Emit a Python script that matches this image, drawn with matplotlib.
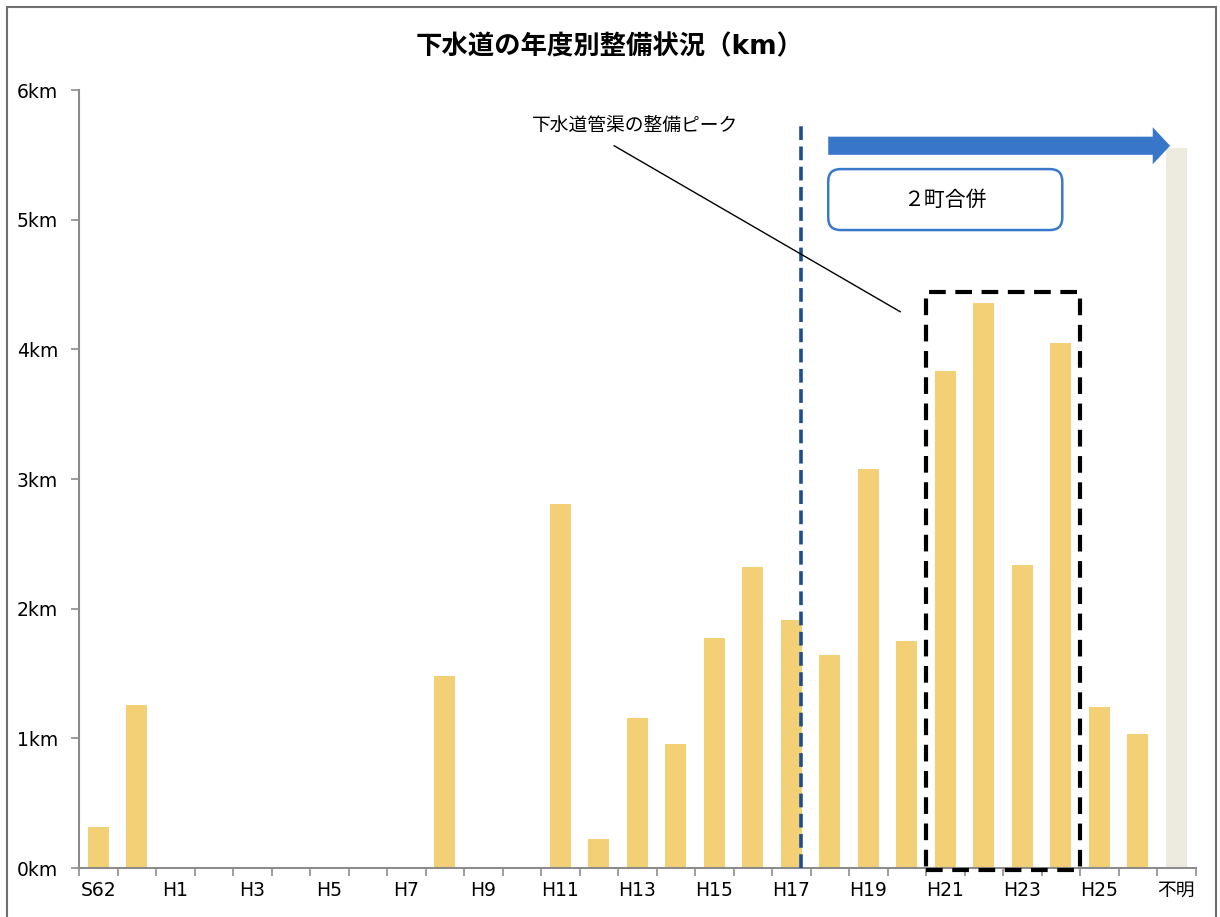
import matplotlib.pyplot as plt
import numpy as np
from matplotlib.patches import Rectangle, FancyBboxPatch, FancyArrow

plt.rcParams['font.family'] = ['DejaVu Sans', 'Noto Sans CJK JP']

# fiscal years S62..H26 plus unknown
years = ['S62', 'S63'] + ['H%d' % i for i in range(1, 27)] + ['不明']
lengths = [0.32, 1.26, 0, 0, 0, 0, 0, 0, 0, 1.48, 0, 0, 2.81, 0.22, 1.16, 0.96,
           1.77, 2.32, 1.91, 1.64, 3.08, 1.75, 3.83, 4.36, 2.34, 4.05, 1.24, 1.03, 5.55]
y_ticks = [0, 1, 2, 3, 4, 5, 6]
y_labels = ['%dkm' % v for v in y_ticks]

bar_col = '#F3CF76'
unknown_col = '#EDEBE0'
axis_col = '#8C8C8C'

fig = plt.figure(figsize=(12.2, 9.17), dpi=100)
ax = fig.add_axes([79 / 1220, 49 / 917, 1116.5 / 1220, 778 / 917])

x = np.arange(len(years))
colors = [bar_col] * (len(years) - 1) + [unknown_col]
ax.bar(x, lengths, width=0.55, color=colors, zorder=2)

ax.set_xlim(-0.5, len(years) - 0.5)
ax.set_ylim(0, 6)
ax.set_yticks(y_ticks)
ax.set_yticklabels(y_labels, fontsize=13.5)
ax.set_xticks(x[::2])
ax.set_xticklabels(years[::2], fontsize=13.5)
ax.set_xticks(np.arange(-0.5, len(years), 1), minor=True)
ax.tick_params(axis='x', which='major', length=0, pad=9)
ax.tick_params(axis='x', which='minor', length=6, width=1.2, color=axis_col, direction='out')
ax.tick_params(axis='y', length=6, width=1.2, color=axis_col, direction='out', pad=9)

for s in ['top', 'right']:
    ax.spines[s].set_visible(False)
for s in ['left', 'bottom']:
    ax.spines[s].set_color(axis_col)
    ax.spines[s].set_linewidth(1.5)

fig.text(0.5, 1 - 47 / 917, '下水道の年度別整備状況（km）', ha='center', va='center',
         fontsize=19, fontweight='bold')

# merger line (between H17 and H18)
ax.plot([18.26, 18.26], [0, 5.75], color='#1F4E8C', lw=2.6, linestyle=(0, (3.8, 1.8)), zorder=3)

# merger arrow
arr = FancyArrow(18.96, 5.57, 8.88, 0, width=0.14, head_width=0.285, head_length=0.45,
                 length_includes_head=True, color='#3776C8', lw=0, clip_on=False, zorder=4)
ax.add_patch(arr)

box = FancyBboxPatch((18.96, 4.92), 6.08, 0.47, boxstyle='round,pad=0,rounding_size=0.32',
                     mutation_aspect=38.5 / 129.67, facecolor='white', edgecolor='#3A78C9',
                     lw=1.8, zorder=4, clip_on=False)
ax.add_patch(box)
ax.text(22.0, 5.155, '２町合併', ha='center', va='center', fontsize=15, zorder=5,
        family=['Noto Sans CJK JP'])

# peak box
peak = Rectangle((21.5, -0.015), 4.0, 4.455, fill=False, edgecolor='black', lw=3,
                 linestyle=(0, (4, 2.3)), clip_on=False, zorder=5)
ax.add_patch(peak)

ax.plot([13.4, 20.83], [5.57, 4.29], color='black', lw=1.0, zorder=5)
ax.text(11.27, 5.73, '下水道管渠の整備ピーク', ha='left', va='center', fontsize=13.5,
        family=['Noto Sans CJK JP'])

# outer frame
fig.patches.append(Rectangle((7 / 1220, -0.02), 1209 / 1220, 1.02 - 7 / 917, fill=False,
                             edgecolor='#6E6E6E', lw=1.5, transform=fig.transFigure, figure=fig))

fig.savefig('out.png', dpi=100)
